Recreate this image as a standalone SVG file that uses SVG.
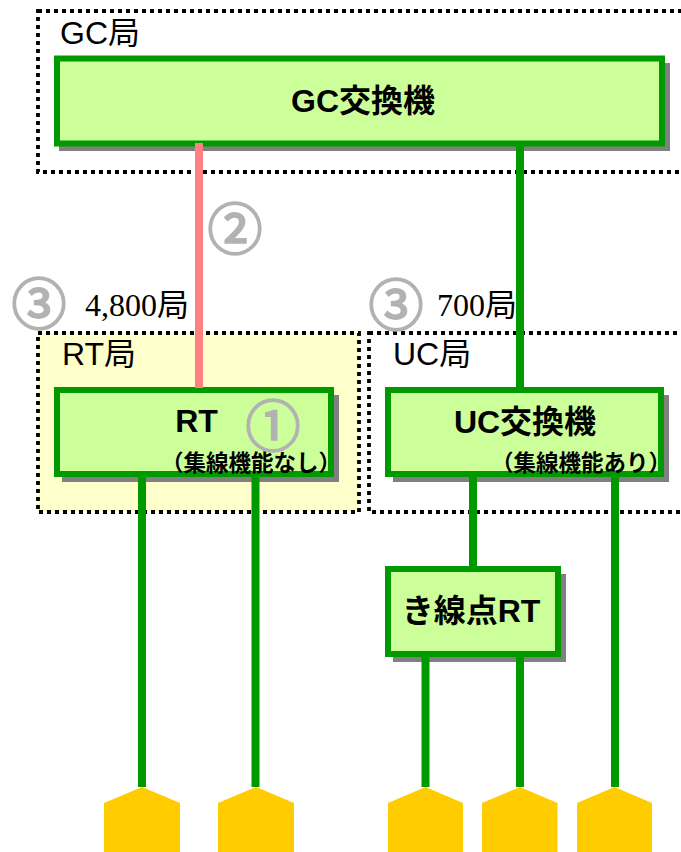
<svg xmlns="http://www.w3.org/2000/svg" width="681" height="852" viewBox="0 0 681 852">
<style>
text{font-family:"Liberation Sans","Noto Sans CJK JP",sans-serif;fill:#000}
.area{stroke:#000;stroke-width:3.800;stroke-dasharray:4 4}
.box{fill:#CCFF99;stroke:#009900;stroke-width:6}
.shadow{fill:#808080}
.line{stroke:#009900;stroke-width:8;fill:none}
.home{fill:#FFCC00}
.lab{font-size:32px}
.b{font-weight:bold;text-anchor:middle}
.big{font-size:32px}
.small{font-size:22.500px;font-weight:bold;text-anchor:end}
.ser{font-family:"Liberation Serif","Noto Sans CJK JP",serif;font-size:32px}
.num{font-family:"Noto Sans CJK JP",sans-serif;font-size:55px;fill:#B2B2B2;stroke:#B2B2B2;stroke-width:2;text-anchor:middle}
</style>
<g id="area-gc"><rect class="area" x="38" y="11" width="660" height="161" fill="#fff"/><text class="lab" x="60" y="44">GC局</text></g>
<g id="area-rt"><rect class="area" x="38" y="333" width="321" height="179" fill="#FFFFCC"/><text class="lab" x="62" y="365">RT局</text></g>
<g id="area-uc"><rect class="area" x="369" y="333" width="330" height="179" fill="#fff"/><text class="lab" x="393" y="365">UC局</text></g>
<g id="gc-switch"><rect class="shadow" x="59" y="63" width="611" height="88"/><rect class="box" x="57" y="58.500" width="605" height="85"/><text class="b big" x="363" y="112">GC交換機</text></g>
<g id="rt"><rect class="shadow" x="62" y="395" width="277" height="87"/><rect class="box" x="57" y="390" width="274" height="84"/><text class="b big" x="196.500" y="432">RT</text><text class="small" x="341" y="471">（集線機能なし）</text></g>
<g id="uc-switch"><rect class="shadow" x="393" y="395" width="276" height="87"/><rect class="box" x="388" y="390" width="273" height="84"/><text class="b big" x="525" y="433">UC交換機</text><text class="small" x="671" y="471">（集線機能あり）</text></g>
<g id="kisen-rt"><rect class="shadow" x="393" y="574" width="173" height="88"/><rect class="box" x="388" y="569" width="170" height="85"/><text class="b big" x="471" y="622">き線点RT</text></g>
<g id="homes">
<path class="home" d="M142 787L180 803V852H104V803Z"/>
<path class="home" d="M256 787L294 803V852H218V803Z"/>
<path class="home" d="M425.500 787L463 803V852H388V803Z"/>
<path class="home" d="M520 787L557.500 803V852H482V803Z"/>
<path class="home" d="M614.500 787L652 803V852H577V803Z"/>
</g>
<g id="connectors">
<path class="line" d="M142 477V787M255.500 477V787M473 477V567M615 477V787M425.500 657V787M520 657V787M520 146V388"/>
<path class="line" style="stroke:#FF8080" d="M199 143V388"/>
</g>
<text class="ser" x="85" y="316">4,800局</text>
<text class="ser" x="437" y="316">700局</text>
<text class="num" x="39" y="324">③</text>
<text class="num" x="235" y="249">②</text>
<text class="num" x="396" y="325">③</text>
<text class="num" x="273" y="446">①</text>
</svg>
